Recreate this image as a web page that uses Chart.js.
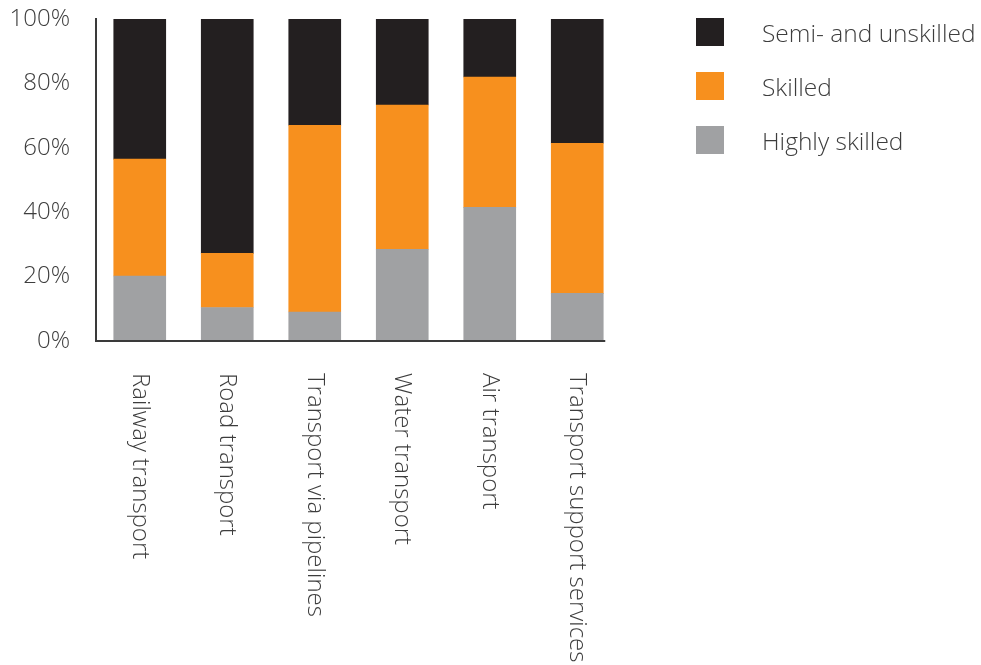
<!DOCTYPE html>
<html>
<head>
<meta charset="utf-8">
<script src="https://cdn.jsdelivr.net/npm/chart.js@4"></script>
<style>
  body { margin: 0; background: #fff; }
  #wrap { position: relative; width: 981px; height: 665px; }
  #legend { position: absolute; left: 696px; top: 18px; font-family: "Open Sans", sans-serif; font-weight: 300; font-size: 24.5px; color: #3d3d3d; }
  .row { display: flex; align-items: center; height: 28px; margin-bottom: 26px; }
  .sw { width: 28px; height: 28px; margin-right: 38px; }
</style>
</head>
<body>
<div id="wrap">
  <canvas id="skillChart" width="981" height="665"></canvas>
  <div id="legend"></div>
</div>
<script>
// sectors on the x axis
const sectors = ["Railway transport", "Road transport", "Transport via pipelines", "Water transport", "Air transport", "Transport support services"];

// share of employment by skill level, percent
const highlySkilled = [20.2, 10.4, 9.0, 28.5, 41.5, 14.8];
const skilled = [36.3, 16.8, 58.0, 44.8, 40.5, 46.6];
const semiUnskilled = [43.5, 72.8, 33.0, 26.7, 18.0, 38.6];

const yTicks = [0, 20, 40, 60, 80, 100];

const colors = { semi: "#231f20", skilled: "#f7901e", high: "#a0a1a3" };
const textColor = "#3d3d3d";
const fontFamily = "'Open Sans', sans-serif";

// x labels drawn rotated clockwise, reading downwards from the axis
const rotatedLabels = {
    id: "rotatedLabels",
    afterDraw(chart) {
        const ctx = chart.ctx;
        const xScale = chart.scales.x;
        const top = chart.chartArea.bottom + 32;
        ctx.save();
        ctx.fillStyle = textColor;
        ctx.font = "300 24px " + fontFamily;
        ctx.textAlign = "left";
        ctx.textBaseline = "middle";
        sectors.forEach((s, i) => {
            ctx.save();
            ctx.translate(xScale.getPixelForTick(i), top);
            ctx.rotate(Math.PI / 2);
            ctx.fillText(s, 0, 0);
            ctx.restore();
        });
        ctx.restore();
    }
};

// bottom axis line, ending just past the last bar
const baseLine = {
    id: "baseLine",
    afterDatasetsDraw(chart) {
        const ctx = chart.ctx;
        const meta = chart.getDatasetMeta(0);
        const last = meta.data[meta.data.length - 1];
        const y = chart.chartArea.bottom;
        ctx.save();
        ctx.strokeStyle = "#3a3a3a";
        ctx.lineWidth = 2;
        ctx.beginPath();
        ctx.moveTo(chart.chartArea.left - 1, y);
        ctx.lineTo(last.x + last.width / 2 + 2, y);
        ctx.stroke();
        ctx.restore();
    }
};

const chart = new Chart(document.getElementById("skillChart"), {
    type: "bar",
    data: {
        labels: sectors,
        datasets: [
            { label: "Highly skilled", data: highlySkilled, backgroundColor: colors.high },
            { label: "Skilled", data: skilled, backgroundColor: colors.skilled },
            { label: "Semi- and unskilled", data: semiUnskilled, backgroundColor: colors.semi }
        ]
    },
    options: {
        responsive: false,
        animation: false,
        layout: { padding: { top: 19, right: 360, left: 0, bottom: 324 } },
        datasets: { bar: { barThickness: 52 } },
        plugins: { legend: { display: false }, tooltip: { enabled: false } },
        scales: {
            x: {
                stacked: true,
                grid: { display: false },
                border: { display: false },
                ticks: { display: false },
                afterFit(scale) { scale.height = 0; }
            },
            y: {
                stacked: true,
                min: 0,
                max: 100,
                grid: { display: false },
                border: { display: true, color: "#3a3a3a", width: 2 },
                afterBuildTicks(scale) { scale.ticks = yTicks.map(v => ({ value: v })); },
                afterFit(scale) {
                    scale.width = 96;
                    scale.paddingTop = 0;
                    scale.paddingBottom = 0;
                },
                ticks: {
                    padding: 18,
                    color: textColor,
                    font: { family: fontFamily, size: 24, weight: 300 },
                    callback: v => v + "%"
                }
            }
        }
    },
    plugins: [rotatedLabels, baseLine]
});

// legend, top entry first
const legend = document.getElementById("legend");
[...chart.data.datasets].reverse().forEach(ds => {
    const row = document.createElement("div");
    row.className = "row";
    row.innerHTML = `<div class="sw" style="background:${ds.backgroundColor}"></div><span>${ds.label}</span>`;
    legend.appendChild(row);
});
</script>
</body>
</html>
